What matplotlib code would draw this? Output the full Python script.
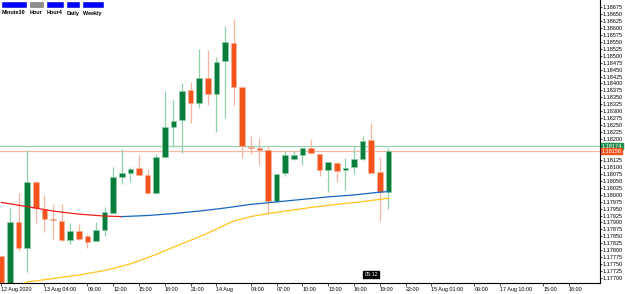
import matplotlib as mpl
mpl.use("Agg")
import matplotlib.pyplot as plt
from matplotlib.patches import Rectangle

# H1 candles, 12 Aug 23:00 .. 14 Aug 20:00
opens = [1.17779, 1.17660, 1.17901, 1.17809, 1.18047, 1.17947, 1.17911, 1.17905,
         1.17837, 1.17870, 1.17851, 1.17834, 1.17873, 1.17935, 1.18062, 1.18079,
         1.18095, 1.18071, 1.18005, 1.18134, 1.18244, 1.18268, 1.18376, 1.18329,
         1.18419, 1.18361, 1.18481, 1.18544, 1.18386, 1.18172, 1.18169, 1.18161,
         1.17977, 1.18077, 1.18127, 1.18143, 1.18167, 1.18146, 1.18089, 1.18115,
         1.18089, 1.18098, 1.18127, 1.18197, 1.18080, 1.18011]
highs = [1.17780, 1.17953, 1.18005, 1.18161, 1.18049, 1.17997, 1.17965, 1.17965,
         1.17897, 1.17894, 1.17860, 1.17900, 1.17955, 1.18101, 1.18163, 1.18101,
         1.18141, 1.18091, 1.18146, 1.18373, 1.18340, 1.18401, 1.18404, 1.18523,
         1.18520, 1.18494, 1.18607, 1.18631, 1.18388, 1.18211, 1.18205, 1.18179,
         1.18076, 1.18158, 1.18158, 1.18169, 1.18199, 1.18148, 1.18118, 1.18119,
         1.18133, 1.18175, 1.18212, 1.18259, 1.18137, 1.18167]
lows = [1.17630, 1.17640, 1.17797, 1.17720, 1.17897, 1.17867, 1.17839, 1.17835,
        1.17823, 1.17838, 1.17808, 1.17832, 1.17852, 1.17933, 1.18040, 1.18044,
        1.18070, 1.18003, 1.18003, 1.18133, 1.18175, 1.18151, 1.18259, 1.18313,
        1.18322, 1.18226, 1.18277, 1.18322, 1.18131, 1.18146, 1.18107, 1.17930,
        1.17970, 1.18068, 1.18125, 1.18107, 1.18147, 1.18067, 1.18011, 1.18047,
        1.18017, 1.18074, 1.18125, 1.18077, 1.17906, 1.17947]
closes = [1.17650, 1.17903, 1.17808, 1.18047, 1.17951, 1.17912, 1.17908, 1.17837,
          1.17868, 1.17840, 1.17831, 1.17873, 1.17938, 1.18062, 1.18077, 1.18094,
          1.18071, 1.18005, 1.18134, 1.18242, 1.18266, 1.18374, 1.18331, 1.18419,
          1.18361, 1.18478, 1.18548, 1.18388, 1.18175, 1.18168, 1.18161, 1.17977,
          1.18074, 1.18143, 1.18143, 1.18167, 1.18149, 1.18089, 1.18116, 1.18086,
          1.18097, 1.18127, 1.18193, 1.18079, 1.18011, 1.18157]

# moving averages (bar index, value)
ma_fast_idx = [0, 3, 6, 9, 12, 14, 17, 20, 23, 26, 29, 32, 35, 38, 41, 44, 45]
ma_fast = [1.17972, 1.17957, 1.17941, 1.17930, 1.17923, 1.17921, 1.17925, 1.17932,
           1.17941, 1.17952, 1.17965, 1.17974, 1.17983, 1.17992, 1.17999, 1.18009,
           1.18011]
ma_fast_turn = 14  # red while falling, blue after
ma_slow_idx = [1, 3, 6, 9, 12, 15, 18, 21, 23, 25, 27, 29, 31, 33, 36, 39, 42, 45]
ma_slow = [1.17660, 1.17686, 1.17698, 1.17711, 1.17727, 1.17751, 1.17785, 1.17824,
           1.17848, 1.17876, 1.17905, 1.17921, 1.17932, 1.17941, 1.17954, 1.17965,
           1.17975, 1.17987]

ask_price = 1.18174
bid_price = 1.18156
countdown = "05:12"

x_ticks = [0, 5, 10, 13, 16, 19, 22, 25, 29, 32, 35, 38, 41, 44, 47, 50, 55, 58, 63, 66]
x_labels = ["12 Aug 2020", "13 Aug 04:00", "09:00", "12:00", "15:00", "18:00", "21:00",
            "14 Aug", "04:00", "07:00", "10:00", "13:00", "16:00", "19:00", "22:00",
            "15 Aug 01:00", "06:00", "17 Aug 10:00", "15:00", "18:00"]
y_ticks = [1.17700 + 0.00025 * i for i in range(40)]
y_ticks = [v for v in y_ticks if abs(v - 1.18150) > 1e-6 and abs(v - 1.18175) > 1e-6]

timeframes = ["Minute30", "Hour", "Hour4", "Daily", "Weekly"]
tf_active = [True, False, True, True, True]

GREEN = "#0a7d3c"
ORANGE = "#f2541b"
GREEN_WICK = "#8fd1ab"
ORANGE_WICK = "#f6b49e"
FONT = ["Liberation Sans", "DejaVu Sans"]

W, H = 625, 294
fig = plt.figure(figsize=(W / 100, H / 100), dpi=100)
ax = fig.add_axes([0, 11 / H, 600 / W, 283 / H])
ax.set_xlim(-0.163, 69.6)
ax.set_ylim(1.176822, 1.187002)

for k, (o, h, l, c) in enumerate(zip(opens, highs, lows, closes)):
    up = c >= o
    ax.vlines(k, l, h, color=GREEN_WICK if up else ORANGE_WICK, lw=0.9, zorder=2)
    ax.bar(k, max(abs(c - o), 0.00004), bottom=min(o, c), width=0.66,
           color=GREEN if up else ORANGE, edgecolor=GREEN_WICK if up else ORANGE_WICK,
           lw=0.4, zorder=3)

ax.axhline(ask_price, color="#98d6b2", lw=0.9, zorder=1)
ax.axhline(bid_price, color="#f5b8a6", lw=0.9, zorder=1)

t = ma_fast_idx.index(ma_fast_turn)
ax.plot(ma_fast_idx[:t + 1], ma_fast[:t + 1], color="#e8201c", lw=0.9, zorder=4)
ax.plot(ma_fast_idx[t:], ma_fast[t:], color="#1666c4", lw=0.9, zorder=4)
ax.plot(ma_slow_idx, ma_slow, color="#ffc31a", lw=0.9, zorder=4)

for s in ["top", "left"]:
    ax.spines[s].set_visible(False)
for s in ["right", "bottom"]:
    ax.spines[s].set_linewidth(0.8)

ax.set_xticks(x_ticks)
ax.set_xticklabels(x_labels, ha="left", family=FONT, fontsize=3.9)
ax.tick_params(axis="x", length=2, width=0.5, pad=1)
ax.yaxis.tick_right()
ax.set_yticks(y_ticks)
ax.set_yticklabels([f"{v:.5f}" for v in y_ticks], family=FONT, fontsize=4.0)
ax.tick_params(axis="y", length=1.2, width=0.5, pad=0.6)

# price tags on the right scale
for price, col in [(ask_price, "#1f8f50"), (bid_price, ORANGE)]:
    ax.text(1.003, price, f"{price:.5f}", transform=ax.get_yaxis_transform(),
            ha="left", va="center", color="white", fontsize=4.0, family=FONT,
            bbox=dict(boxstyle="square,pad=0.12", fc=col, ec=col))

# countdown box
ax.text(43.0, 1.17713, countdown, ha="center", va="center", color="white",
        fontsize=3.9, family=FONT,
        bbox=dict(boxstyle="square,pad=0.2", fc="black", ec="black"))

# timeframe buttons
rects = [(1.7, 24), (30, 12.7), (46.7, 16), (66.7, 12.6), (83.3, 19.4)]
for (x0, w), name, active in zip(rects, timeframes, tf_active):
    fc = "#0000ff" if active else "#8c8c8c"
    ec = "#0000cc" if active else "#6a6a6a"
    fig.add_artist(Rectangle((x0 / W, 1 - 6.8 / H), w / W, 5.2 / H,
                             transform=fig.transFigure, fc=fc, ec=ec, lw=0.4))
    fig.text(x0 / W, 1 - 10.5 / H, name, ha="left", va="top", fontsize=3.9,
             family=FONT, weight="bold")

fig.savefig("out.png", dpi=100)
